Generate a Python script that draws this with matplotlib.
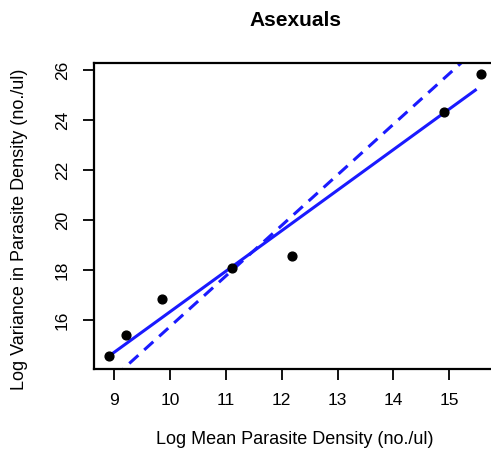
import matplotlib
matplotlib.use("Agg")
import matplotlib.pyplot as plt

# observed points (log mean, log variance)
log_mean = [8.90, 9.21, 9.86, 11.11, 12.18, 14.91, 15.57]
log_var = [14.55, 15.40, 16.82, 18.07, 18.55, 24.31, 25.84]

# fitted line (solid) and slope-2 reference line (dashed), endpoints
fit_x = [8.90, 15.49]
fit_y = [14.55, 25.23]
ref_x = [9.00, 15.40]
ref_y = [13.72, 26.66]

x_ticks = [9, 10, 11, 12, 13, 14, 15]
y_ticks = [16, 18, 20, 22, 24, 26]

plt.rcParams['font.family'] = ['Liberation Sans', 'DejaVu Sans']
plt.rcParams['font.size'] = 12

fig = plt.figure(figsize=(4.91, 4.59), dpi=100)
ax = fig.add_axes([93.5 / 491, 1 - 369 / 459, (495 - 93.5) / 491, (369 - 62.5) / 459])

ax.plot(fit_x, fit_y, color='#1a1aff', lw=2.2, solid_capstyle='butt')
ax.plot(ref_x, ref_y, color='#1a1aff', lw=2.2, linestyle=(0, (4, 2.6)))
ax.scatter(log_mean, log_var, s=40, color='black', zorder=3)

ax.set_xlim(8.627, 15.82)
ax.set_ylim(14.04, 26.3)
ax.set_xticks(x_ticks)
ax.set_yticks(y_ticks)
ax.tick_params(direction='out', length=8, width=1.3, pad=9, labelsize=12.5)
for lab in ax.get_yticklabels():
    lab.set_rotation(90)
    lab.set_va('center')
for s in ax.spines.values():
    s.set_linewidth(1.6)

fig.text(295 / 491, 1 - 20 / 459, "Asexuals", ha='center', va='center',
         fontsize=15, fontweight='bold')
fig.text(295 / 491, 1 - 440 / 459, "Log Mean Parasite Density (no./ul)",
         ha='center', va='center', fontsize=13)
fig.text(20 / 491, 1 - 229 / 459, "Log Variance in Parasite Density (no./ul)",
         ha='center', va='center', rotation=90, fontsize=13)

fig.savefig("out.png", dpi=100)
